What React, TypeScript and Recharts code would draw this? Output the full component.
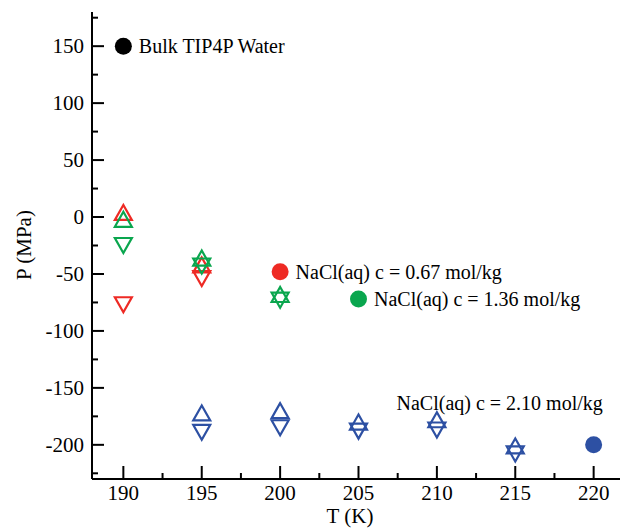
import React from 'react';
import {
  ScatterChart,
  Scatter,
  XAxis,
  YAxis,
  ReferenceDot,
  Label,
} from 'recharts';

// temperatures (K) and pressures (MPa)
const tempsLow = [190, 195];
const tempsMid = [190, 195, 200];
const tempsHigh = [195, 200, 205, 210, 215];

const red067Up = [4, -42];
const red067Down = [-77, -54];
const green136Up = [-2, -36, -68];
const green136Down = [-25, -43, -73];
const blue210Up = [-172, -170, -180, -178, -201];
const blue210Down = [-189, -185, -188, -187, -208];

const xTicks = [190, 192.5, 195, 197.5, 200, 202.5, 205, 207.5, 210, 212.5, 215, 217.5, 220];
const yTicks = [-225, -200, -175, -150, -125, -100, -75, -50, -25, 0, 25, 50, 75, 100, 125, 150, 175];

const legendLabels = [
  'Bulk TIP4P Water',
  'NaCl(aq) c = 0.67 mol/kg',
  'NaCl(aq) c = 1.36 mol/kg',
  'NaCl(aq) c = 2.10 mol/kg',
];
const legendT = [190, 200, 205, 220];
const legendP = [150, -48, -72, -200];

const RED = '#ee2a24';
const GREEN = '#0aa64e';
const BLUE = '#2d50a3';
const legendColors = ['#000', RED, GREEN, BLUE];

const FONT = 'Liberation Serif, DejaVu Serif, serif';
const txt = (size: number) => ({ fontFamily: FONT, fontSize: size, fill: '#000' });

const toPoints = (ts: number[], ps: number[]) => ts.map((t, i) => ({ t, p: ps[i] }));

const triangle = (color: string, up: boolean) => (props: any) => {
  const { cx, cy } = props;
  const h = 7.5;
  const w = 8.5;
  const pts = up
    ? `${cx},${cy - h} ${cx - w},${cy + h} ${cx + w},${cy + h}`
    : `${cx},${cy + h} ${cx - w},${cy - h} ${cx + w},${cy - h}`;
  return <polygon points={pts} fill="none" stroke={color} strokeWidth={2.2} strokeLinejoin="miter" />;
};

const isMajor = (v: number, step: number) => Math.abs(v % step) < 1e-9;

const BottomTick = (props: any) => {
  const { x, y, payload } = props;
  const major = isMajor(payload.value, 5);
  return (
    <g>
      <line x1={x} y1={y} x2={x} y2={y - (major ? 13 : 6)} stroke="#000" strokeWidth={2} />
      {major && (
        <text x={x} y={y + 21} textAnchor="middle" style={txt(21)} fontFamily={FONT}>
          {payload.value}
        </text>
      )}
    </g>
  );
};

const TopTick = (props: any) => {
  const { x, y, payload } = props;
  const major = isMajor(payload.value, 5);
  return <line x1={x} y1={y} x2={x} y2={y + (major ? 13 : 6)} stroke="#000" strokeWidth={2} />;
};

const LeftTick = (props: any) => {
  const { x, y, payload } = props;
  const major = isMajor(payload.value, 50);
  return (
    <g>
      <line x1={x} y1={y} x2={x + (major ? 12 : 6)} y2={y} stroke="#000" strokeWidth={2} />
      {major && (
        <text x={x - 8} y={y + 7} textAnchor="end" style={txt(21)} fontFamily={FONT}>
          {payload.value}
        </text>
      )}
    </g>
  );
};

const RightTick = (props: any) => {
  const { x, y, payload } = props;
  const major = isMajor(payload.value, 50);
  return <line x1={x} y1={y} x2={x - (major ? 12 : 6)} y2={y} stroke="#000" strokeWidth={2} />;
};

const legendLabel = (i: number) => (props: any) => {
  const { viewBox } = props;
  const r = viewBox.width / 2;
  const cx = viewBox.x + r;
  const cy = viewBox.y + r;
  if (i === 3) {
    return (
      <text x={cx - 94} y={cy - 35} textAnchor="middle" style={txt(20)} fontFamily={FONT}>
        {legendLabels[i]}
      </text>
    );
  }
  return (
    <text x={cx + r + 7} y={cy + 7} textAnchor="start" style={txt(20)} fontFamily={FONT}>
      {legendLabels[i]}
    </text>
  );
};

const series = [
  { data: toPoints(tempsLow, red067Up), color: RED, up: true },
  { data: toPoints(tempsLow, red067Down), color: RED, up: false },
  { data: toPoints(tempsMid, green136Up), color: GREEN, up: true },
  { data: toPoints(tempsMid, green136Down), color: GREEN, up: false },
  { data: toPoints(tempsHigh, blue210Up), color: BLUE, up: true },
  { data: toPoints(tempsHigh, blue210Down), color: BLUE, up: false },
];

export default function App() {
  return (
    <div style={{ position: 'absolute', left: 0, top: 0, width: 620, height: 528, overflow: 'hidden', background: '#fff', fontFamily: FONT }}>
      <ScatterChart width={640} height={528} margin={{ top: 12, right: 15, bottom: 0, left: 0 }}>
        <XAxis
          xAxisId="bottom"
          type="number"
          dataKey="t"
          domain={[188, 222]}
          ticks={xTicks}
          interval={0}
          height={49}
          tickSize={0}
          tickMargin={0}
          tickLine={false}
          axisLine={{ stroke: '#000', strokeWidth: 2 }}
          tick={BottomTick}
        >
          <Label
            content={() => (
              <text x={350} y={523} textAnchor="middle" style={txt(21)} fontFamily={FONT}>
                T (K)
              </text>
            )}
          />
        </XAxis>
        <XAxis
          xAxisId="top"
          orientation="top"
          type="number"
          dataKey="t"
          domain={[188, 222]}
          ticks={xTicks}
          interval={0}
          height={0}
          tickSize={0}
          tickMargin={0}
          tickLine={false}
          axisLine={{ stroke: '#000', strokeWidth: 2 }}
          tick={TopTick}
        />
        <YAxis
          yAxisId="left"
          type="number"
          dataKey="p"
          domain={[-230, 180]}
          ticks={yTicks}
          interval={0}
          width={92}
          tickSize={0}
          tickMargin={0}
          tickLine={false}
          axisLine={{ stroke: '#000', strokeWidth: 2 }}
          tick={LeftTick}
        >
          <Label
            content={() => (
              <text x={31} y={245} transform="rotate(-90 31 245)" textAnchor="middle" style={txt(21)} fontFamily={FONT}>
                P (MPa)
              </text>
            )}
          />
        </YAxis>
        <YAxis
          yAxisId="right"
          orientation="right"
          type="number"
          dataKey="p"
          domain={[-230, 180]}
          ticks={yTicks}
          interval={0}
          width={0}
          tickSize={0}
          tickMargin={0}
          tickLine={false}
          axisLine={{ stroke: '#000', strokeWidth: 2 }}
          tick={RightTick}
        />
        {series.map((s, i) => (
          <Scatter
            key={i}
            xAxisId="bottom"
            yAxisId="left"
            data={s.data}
            shape={triangle(s.color, s.up)}
            isAnimationActive={false}
          />
        ))}
        {legendLabels.map((_, i) => (
          <ReferenceDot
            key={`leg-${i}`}
            xAxisId="bottom"
            yAxisId="left"
            x={legendT[i]}
            y={legendP[i]}
            r={8.5}
            fill={legendColors[i]}
            stroke="none"
            label={legendLabel(i)}
          />
        ))}
      </ScatterChart>
    </div>
  );
}
